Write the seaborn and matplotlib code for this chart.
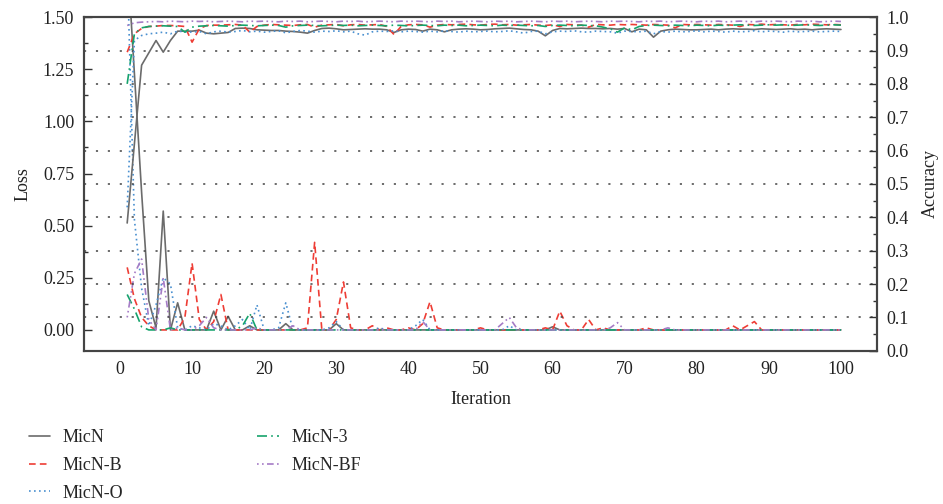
import matplotlib
matplotlib.use("Agg")
import matplotlib.pyplot as plt
from matplotlib.ticker import MultipleLocator
import seaborn as sns

# x values
iterations = list(range(1, 101))
models = ["MicN", "MicN-B", "MicN-O", "MicN-3", "MicN-BF"]

# loss curves (left axis)
micn_loss = [1.80, 1.23, 0.66, 0.14, 0.01, 0.57, 0.00, 0.13, 0.00, 0.00,
             0.00, 0.00, 0.09, 0.00, 0.065, 0.00, 0.00, 0.02, 0.00, 0.00,
             0.00, 0.00, 0.03, 0.00, 0.00, 0.00, 0.00, 0.00, 0.00, 0.03,
             0.00, 0.00, 0.00, 0.00, 0.00, 0.00, 0.00, 0.00, 0.00, 0.00,
             0.00, 0.00, 0.00, 0.00, 0.00, 0.00, 0.00, 0.00, 0.00, 0.00,
             0.00, 0.00, 0.00, 0.00, 0.00, 0.00, 0.00, 0.00, 0.00, 0.015,
             0.00, 0.00, 0.00, 0.00, 0.00, 0.00, 0.00, 0.00, 0.00, 0.00,
             0.00, 0.00, 0.00, 0.00, 0.00, 0.00, 0.00, 0.00, 0.00, 0.00,
             0.00, 0.00, 0.00, 0.00, 0.00, 0.00, 0.00, 0.00, 0.00, 0.00,
             0.00, 0.00, 0.00, 0.00, 0.00, 0.00, 0.00, 0.00, 0.00, 0.00]
micnb_loss = [0.30, 0.15, 0.06, 0.02, 0.00, 0.00, 0.00, 0.00, 0.06, 0.32,
              0.05, 0.00, 0.04, 0.17, 0.00, 0.00, 0.00, 0.00, 0.00, 0.00,
              0.00, 0.00, 0.00, 0.00, 0.00, 0.01, 0.42, 0.00, 0.00, 0.05,
              0.23, 0.01, 0.00, 0.00, 0.02, 0.00, 0.01, 0.00, 0.00, 0.01,
              0.00, 0.03, 0.135, 0.01, 0.00, 0.00, 0.00, 0.00, 0.00, 0.01,
              0.00, 0.00, 0.00, 0.00, 0.00, 0.00, 0.00, 0.00, 0.01, 0.00,
              0.09, 0.02, 0.00, 0.00, 0.05, 0.00, 0.01, 0.00, 0.00, 0.00,
              0.00, 0.00, 0.01, 0.00, 0.00, 0.00, 0.00, 0.00, 0.00, 0.00,
              0.00, 0.00, 0.00, 0.00, 0.02, 0.00, 0.02, 0.04, 0.00, 0.00,
              0.00, 0.00, 0.00, 0.00, 0.00, 0.00, 0.00, 0.00, 0.00, 0.00]
micno_loss = [1.75, 0.53, 0.20, 0.02, 0.12, 0.25, 0.22, 0.01, 0.00, 0.02,
              0.01, 0.00, 0.03, 0.02, 0.00, 0.02, 0.05, 0.00, 0.12, 0.00,
              0.00, 0.01, 0.13, 0.00, 0.00, 0.00, 0.00, 0.00, 0.01, 0.04,
              0.00, 0.00, 0.00, 0.00, 0.00, 0.01, 0.00, 0.00, 0.00, 0.00,
              0.02, 0.05, 0.00, 0.00, 0.00, 0.00, 0.00, 0.00, 0.00, 0.00,
              0.00, 0.00, 0.00, 0.02, 0.00, 0.00, 0.00, 0.00, 0.00, 0.00,
              0.00, 0.00, 0.00, 0.00, 0.00, 0.00, 0.00, 0.00, 0.00, 0.00,
              0.00, 0.00, 0.00, 0.00, 0.00, 0.00, 0.00, 0.00, 0.00, 0.00,
              0.00, 0.00, 0.00, 0.00, 0.00, 0.00, 0.00, 0.00, 0.00, 0.00,
              0.00, 0.00, 0.00, 0.00, 0.00, 0.00, 0.00, 0.00, 0.00, 0.00]
micn3_loss = [0.17, 0.10, 0.015, 0.00, 0.00, 0.00, 0.01, 0.00, 0.00, 0.00,
              0.00, 0.00, 0.00, 0.00, 0.00, 0.00, 0.02, 0.08, 0.00, 0.00,
              0.00, 0.00, 0.00, 0.00, 0.00, 0.00, 0.00, 0.00, 0.00, 0.00,
              0.00, 0.00, 0.00, 0.00, 0.00, 0.00, 0.00, 0.00, 0.00, 0.00,
              0.00, 0.00, 0.00, 0.00, 0.00, 0.00, 0.00, 0.00, 0.00, 0.00,
              0.00, 0.00, 0.00, 0.00, 0.00, 0.00, 0.00, 0.00, 0.00, 0.00,
              0.00, 0.00, 0.00, 0.00, 0.00, 0.00, 0.00, 0.00, 0.00, 0.00,
              0.00, 0.00, 0.00, 0.00, 0.00, 0.00, 0.00, 0.00, 0.00, 0.00,
              0.00, 0.00, 0.00, 0.00, 0.00, 0.00, 0.00, 0.00, 0.00, 0.00,
              0.00, 0.00, 0.00, 0.00, 0.00, 0.00, 0.00, 0.00, 0.00, 0.00]
micnbf_loss = [0.06, 0.27, 0.34, 0.05, 0.00, 0.25, 0.00, 0.01, 0.00, 0.00,
               0.02, 0.06, 0.01, 0.00, 0.00, 0.00, 0.00, 0.00, 0.01, 0.00,
               0.00, 0.00, 0.00, 0.02, 0.00, 0.00, 0.00, 0.00, 0.00, 0.00,
               0.00, 0.00, 0.00, 0.00, 0.00, 0.00, 0.00, 0.00, 0.00, 0.00,
               0.00, 0.04, 0.00, 0.00, 0.00, 0.00, 0.00, 0.00, 0.00, 0.00,
               0.00, 0.00, 0.03, 0.06, 0.01, 0.00, 0.00, 0.00, 0.00, 0.00,
               0.00, 0.00, 0.00, 0.00, 0.00, 0.00, 0.00, 0.01, 0.035, 0.00,
               0.00, 0.00, 0.00, 0.00, 0.00, 0.01, 0.00, 0.00, 0.00, 0.00,
               0.00, 0.00, 0.00, 0.00, 0.00, 0.00, 0.00, 0.00, 0.00, 0.00,
               0.00, 0.00, 0.00, 0.00, 0.00, 0.00, 0.00, 0.00, 0.00, 0.00]

# accuracy curves (right axis)
micn_acc = [0.383, 0.620, 0.856, 0.893, 0.930, 0.895, 0.930, 0.958, 0.958, 0.958,
            0.961, 0.952, 0.950, 0.952, 0.954, 0.966, 0.967, 0.966, 0.962, 0.961,
            0.960, 0.960, 0.958, 0.957, 0.955, 0.952, 0.960, 0.966, 0.967, 0.965,
            0.962, 0.963, 0.964, 0.965, 0.964, 0.964, 0.962, 0.954, 0.962, 0.964,
            0.963, 0.958, 0.964, 0.962, 0.956, 0.962, 0.964, 0.965, 0.964, 0.962,
            0.963, 0.965, 0.966, 0.967, 0.965, 0.963, 0.962, 0.958, 0.944, 0.960,
            0.966, 0.965, 0.966, 0.967, 0.966, 0.966, 0.965, 0.966, 0.964, 0.966,
            0.956, 0.964, 0.962, 0.940, 0.958, 0.962, 0.964, 0.963, 0.962, 0.962,
            0.963, 0.964, 0.962, 0.964, 0.965, 0.964, 0.964, 0.963, 0.965, 0.964,
            0.963, 0.964, 0.965, 0.963, 0.964, 0.962, 0.964, 0.965, 0.964, 0.963]
micnb_acc = [0.895, 0.950, 0.966, 0.972, 0.973, 0.975, 0.975, 0.974, 0.972, 0.925,
             0.965, 0.975, 0.976, 0.976, 0.977, 0.978, 0.976, 0.955, 0.972, 0.976,
             0.978, 0.977, 0.976, 0.975, 0.977, 0.978, 0.970, 0.976, 0.977, 0.978,
             0.974, 0.977, 0.978, 0.976, 0.977, 0.978, 0.972, 0.948, 0.972, 0.977,
             0.978, 0.977, 0.970, 0.976, 0.978, 0.977, 0.978, 0.979, 0.977, 0.976,
             0.978, 0.979, 0.977, 0.978, 0.976, 0.977, 0.978, 0.976, 0.975, 0.977,
             0.972, 0.978, 0.977, 0.976, 0.970, 0.978, 0.977, 0.976, 0.978, 0.977,
             0.978, 0.977, 0.976, 0.978, 0.977, 0.976, 0.968, 0.978, 0.977, 0.978,
             0.977, 0.976, 0.978, 0.977, 0.976, 0.972, 0.978, 0.977, 0.979, 0.977,
             0.978, 0.977, 0.976, 0.978, 0.977, 0.979, 0.978, 0.977, 0.978, 0.977]
micno_acc = [0.430, 0.930, 0.945, 0.950, 0.952, 0.955, 0.950, 0.958, 0.956, 0.955,
             0.957, 0.950, 0.956, 0.958, 0.955, 0.957, 0.960, 0.956, 0.958, 0.955,
             0.957, 0.959, 0.953, 0.957, 0.960, 0.958, 0.955, 0.958, 0.957, 0.959,
             0.956, 0.958, 0.950, 0.946, 0.956, 0.958, 0.957, 0.959, 0.956, 0.958,
             0.957, 0.955, 0.958, 0.956, 0.959, 0.957, 0.955, 0.958, 0.956, 0.957,
             0.958, 0.956, 0.957, 0.959, 0.956, 0.952, 0.957, 0.958, 0.950, 0.956,
             0.958, 0.957, 0.959, 0.956, 0.955, 0.958, 0.957, 0.956, 0.952, 0.958,
             0.957, 0.956, 0.958, 0.950, 0.957, 0.955, 0.958, 0.956, 0.957, 0.959,
             0.956, 0.958, 0.957, 0.955, 0.958, 0.956, 0.957, 0.959, 0.956, 0.958,
             0.957, 0.955, 0.958, 0.956, 0.957, 0.958, 0.956, 0.957, 0.958, 0.957]
micn3_acc = [0.800, 0.950, 0.968, 0.972, 0.973, 0.974, 0.973, 0.972, 0.955, 0.970,
             0.973, 0.974, 0.975, 0.974, 0.973, 0.975, 0.976, 0.975, 0.974, 0.975,
             0.976, 0.975, 0.970, 0.974, 0.975, 0.976, 0.975, 0.974, 0.975, 0.976,
             0.975, 0.976, 0.974, 0.975, 0.976, 0.975, 0.974, 0.976, 0.975, 0.974,
             0.975, 0.976, 0.975, 0.974, 0.976, 0.975, 0.976, 0.974, 0.975, 0.976,
             0.975, 0.974, 0.976, 0.975, 0.976, 0.975, 0.974, 0.975, 0.972, 0.975,
             0.976, 0.975, 0.974, 0.976, 0.975, 0.974, 0.970, 0.965, 0.955, 0.968,
             0.962, 0.972, 0.975, 0.976, 0.975, 0.974, 0.976, 0.975, 0.974, 0.976,
             0.975, 0.974, 0.976, 0.975, 0.976, 0.977, 0.976, 0.975, 0.976, 0.977,
             0.976, 0.977, 0.975, 0.976, 0.977, 0.976, 0.975, 0.976, 0.977, 0.976]
micnbf_acc = [0.975, 0.983, 0.985, 0.986, 0.987, 0.986, 0.988, 0.987, 0.986, 0.988,
              0.987, 0.988, 0.986, 0.987, 0.988, 0.987, 0.986, 0.988, 0.987, 0.988,
              0.987, 0.986, 0.988, 0.987, 0.988, 0.986, 0.987, 0.988, 0.987, 0.986,
              0.988, 0.987, 0.988, 0.986, 0.987, 0.988, 0.987, 0.986, 0.988, 0.987,
              0.988, 0.987, 0.986, 0.988, 0.987, 0.988, 0.986, 0.987, 0.988, 0.987,
              0.986, 0.988, 0.987, 0.988, 0.986, 0.987, 0.988, 0.987, 0.986, 0.988,
              0.987, 0.988, 0.986, 0.987, 0.988, 0.987, 0.986, 0.988, 0.987, 0.988,
              0.987, 0.986, 0.988, 0.987, 0.988, 0.986, 0.987, 0.988, 0.987, 0.986,
              0.988, 0.987, 0.988, 0.986, 0.987, 0.988, 0.987, 0.986, 0.988, 0.987,
              0.988, 0.987, 0.986, 0.988, 0.987, 0.988, 0.986, 0.987, 0.988, 0.987]

losses = [micn_loss, micnb_loss, micno_loss, micn3_loss, micnbf_loss]
accs = [micn_acc, micnb_acc, micno_acc, micn3_acc, micnbf_acc]
colors = ["#6b6b6b", "#ee3d35", "#4a90d0", "#16a36c", "#a57cc6"]
styles = ["-", (0, (4, 2.5)), (0, (1, 2)), (0, (6, 2.5, 1, 2.5)), (0, (1, 2, 1, 2, 4, 2))]

sns.set_theme(style="white")
plt.rcParams["font.family"] = ["Liberation Serif", "DejaVu Serif"]

fig = plt.figure(figsize=(9.43, 5.04), dpi=100)
ax = fig.add_axes([0.089, 0.304, 0.841, 0.662])
ax2 = ax.twinx()

# Loss on the left axis
for vals, c, ls in zip(losses, colors, styles):
    sns.lineplot(x=iterations, y=vals, ax=ax, color=c, linestyle=ls, linewidth=1.2)

# Accuracy on the right axis
for vals, c, ls in zip(accs, colors, styles):
    sns.lineplot(x=iterations, y=vals, ax=ax2, color=c, linestyle=ls, linewidth=1.2)

ax.set_xlim(-5, 105)
ax.set_ylim(-0.1, 1.5)
ax2.set_ylim(0, 1.0)

ax.xaxis.set_major_locator(MultipleLocator(10))
ax.xaxis.set_minor_locator(MultipleLocator(5))
ax.yaxis.set_minor_locator(MultipleLocator(0.125))
ax.set_yticks([0, 0.25, 0.5, 0.75, 1.0, 1.25, 1.5])
ax.set_yticklabels(["0.00", "0.25", "0.50", "0.75", "1.00", "1.25", "1.50"])
ax2.yaxis.set_minor_locator(MultipleLocator(0.05))
ax2.set_yticks([i / 10 for i in range(11)])
ax2.set_yticklabels([f"{i / 10:.1f}" for i in range(11)])

for a in (ax, ax2):
    a.tick_params(which="major", direction="in", length=6, width=1, labelsize=13,
                  colors="#333333", pad=7)
    a.tick_params(which="minor", direction="in", length=3, width=1, colors="#333333")
    for sp in a.spines.values():
        sp.set_color("#444444")
        sp.set_linewidth(1.5)
ax.tick_params(axis="both", labelcolor="#222222")
ax2.tick_params(axis="y", labelcolor="#222222")

# dotted horizontal grid from the accuracy axis
for yv in [i / 10 for i in range(1, 10)]:
    ax2.axhline(yv, color="#444444", linewidth=1.1, linestyle=(0, (1.4, 6.4)), zorder=0)

ax.set_xlabel("Iteration", fontsize=13, color="#222222", labelpad=10)
ax.set_ylabel("Loss", fontsize=13, color="#222222", labelpad=8)
ax2.set_ylabel("Accuracy", fontsize=13, color="#222222", labelpad=9)

handles = ax.get_lines()[:5]
fig.legend(handles, models, ncol=2, loc="upper left", bbox_to_anchor=(0.013, 0.181),
           frameon=False, fontsize=13, handlelength=1.2, labelspacing=0.6,
           columnspacing=7.4, handletextpad=0.7)

fig.savefig("out.png", dpi=100)
